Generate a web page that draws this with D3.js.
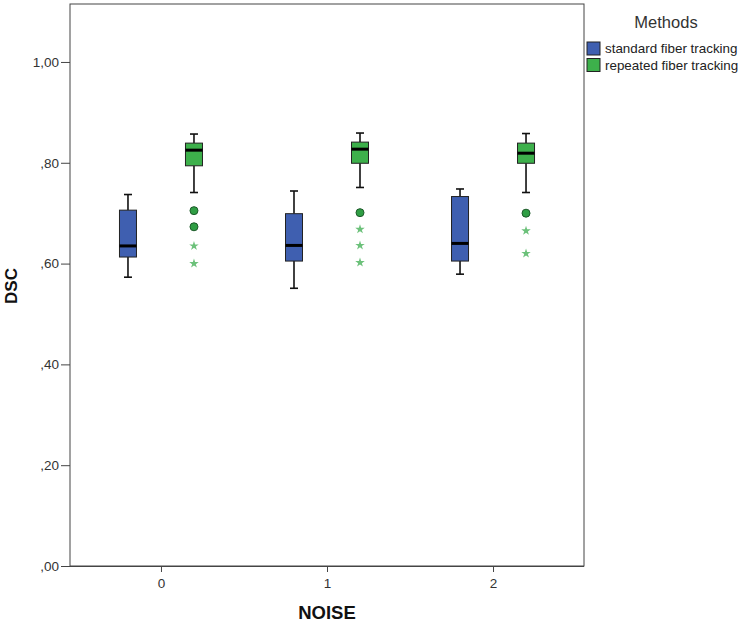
<!DOCTYPE html>
<html><head><meta charset="utf-8">
<script src="https://cdn.jsdelivr.net/npm/d3@7"></script>
<style>body{margin:0;background:#fff;} text{font-family:Arial,"Liberation Sans",sans-serif;}</style>
</head><body>
<svg id="c" width="747" height="624"></svg>
<script>
const noiseLevels = [0, 1, 2];
const methods = ["standard fiber tracking", "repeated fiber tracking"];
const methodColors = ["#3f5fb0", "#3db04b"];
const yTicks = [0, 0.2, 0.4, 0.6, 0.8, 1.0];
const yTickLabels = [",00", ",20", ",40", ",60", ",80", "1,00"];
// [whiskerLow, q1, median, q3, whiskerHigh]
const standardStats = [
  [0.573, 0.613, 0.635, 0.706, 0.737],
  [0.551, 0.605, 0.636, 0.699, 0.744],
  [0.579, 0.605, 0.640, 0.733, 0.748]
];
const repeatedStats = [
  [0.741, 0.794, 0.825, 0.839, 0.857],
  [0.751, 0.799, 0.827, 0.841, 0.859],
  [0.741, 0.799, 0.819, 0.839, 0.858]
];
const repeatedOutliers = [[0.705, 0.673], [0.701], [0.700]];
const repeatedExtremes = [[0.635, 0.600], [0.668, 0.636, 0.602], [0.665, 0.620]];

const svg = d3.select("#c");
const L = 70, R = 584, T = 4, B = 566;
const y = d3.scaleLinear().domain([0, 1.115]).range([B, T]);
const x = d3.scalePoint().domain(noiseLevels).range([L, R]).padding(0.548);
const off = d3.scalePoint().domain(methods).range([-33, 33]);
const color = d3.scaleOrdinal().domain(methods).range(methodColors);

// frame
svg.append("rect").attr("x", L).attr("y", T).attr("width", R - L).attr("height", B - T)
  .attr("fill", "none").attr("stroke", "#444").attr("stroke-width", 1);

// y axis
const ya = svg.append("g").attr("transform", `translate(${L},0)`)
  .call(d3.axisLeft(y).tickValues(yTicks).tickSize(9).tickPadding(2).tickFormat((d, i) => yTickLabels[i]));
ya.select(".domain").remove();
ya.selectAll("line").attr("stroke", "#444");
ya.selectAll("text").attr("font-size", 13.5).attr("fill", "#333");

// x axis
const xa = svg.append("g").attr("transform", `translate(0,${B})`)
  .call(d3.axisBottom(x).tickSize(6).tickSizeOuter(0));
xa.select(".domain").attr("stroke", "#444").attr("d", `M${L - 9},0.5H${R}`);
xa.selectAll("line").attr("stroke", "#444");
xa.selectAll("text").attr("font-size", 13.5).attr("fill", "#333").attr("y", 22).attr("dy", 0);

// axis titles
svg.append("text").attr("x", x(1)).attr("y", 619).attr("text-anchor", "middle")
  .attr("font-size", 18.5).attr("font-weight", "bold").attr("fill", "#111").text("NOISE");
svg.append("text").attr("transform", `translate(17,286) rotate(-90)`)
  .attr("text-anchor", "middle").attr("font-size", 17).attr("font-weight", "bold").attr("fill", "#111").text("DSC");

const bw = 17, cap = 7;
function drawBox(stats, i, m) {
  const cx = x(noiseLevels[i]) + off(m);
  const g = svg.append("g");
  const [lo, q1, med, q3, hi] = stats;
  g.append("line").attr("x1", cx).attr("x2", cx).attr("y1", y(hi)).attr("y2", y(q3)).attr("stroke", "#111").attr("stroke-width", 1.6);
  g.append("line").attr("x1", cx).attr("x2", cx).attr("y1", y(q1)).attr("y2", y(lo)).attr("stroke", "#111").attr("stroke-width", 1.6);
  g.append("line").attr("x1", cx - cap / 2 - 0.5).attr("x2", cx + cap / 2 + 0.5).attr("y1", y(hi)).attr("y2", y(hi)).attr("stroke", "#111").attr("stroke-width", 1.6);
  g.append("line").attr("x1", cx - cap / 2 - 0.5).attr("x2", cx + cap / 2 + 0.5).attr("y1", y(lo)).attr("y2", y(lo)).attr("stroke", "#111").attr("stroke-width", 1.6);
  g.append("rect").attr("x", cx - bw / 2).attr("y", y(q3)).attr("width", bw).attr("height", y(q1) - y(q3))
    .attr("fill", color(m)).attr("stroke", "#222").attr("stroke-width", 1);
  g.append("line").attr("x1", cx - bw / 2).attr("x2", cx + bw / 2).attr("y1", y(med)).attr("y2", y(med)).attr("stroke", "#000").attr("stroke-width", 3);
}
standardStats.forEach((s, i) => drawBox(s, i, methods[0]));
repeatedStats.forEach((s, i) => drawBox(s, i, methods[1]));

const star = d3.symbol().type(d3.symbolStar).size(28);
repeatedOutliers.forEach((arr, i) => {
  const cx = x(noiseLevels[i]) + off(methods[1]);
  arr.forEach(v => svg.append("circle").attr("cx", cx).attr("cy", y(v)).attr("r", 4)
    .attr("fill", "#2f9e44").attr("stroke", "#1d5a2a").attr("stroke-width", 1));
});
repeatedExtremes.forEach((arr, i) => {
  const cx = x(noiseLevels[i]) + off(methods[1]);
  arr.forEach(v => svg.append("path").attr("d", star).attr("transform", `translate(${cx},${y(v)})`)
    .attr("fill", "#6cc17a"));
});

// legend
svg.append("text").attr("x", 666).attr("y", 28).attr("text-anchor", "middle")
  .attr("font-size", 16.5).attr("fill", "#333").text("Methods");
methods.forEach((m, i) => {
  const yy = 42 + i * 16.5;
  svg.append("rect").attr("x", 587).attr("y", yy).attr("width", 13).attr("height", 13)
    .attr("fill", color(m)).attr("stroke", "#222").attr("stroke-width", 1);
  svg.append("text").attr("x", 605).attr("y", yy + 11).attr("font-size", 13.4).attr("fill", "#222").text(m);
});
</script>
</body></html>
